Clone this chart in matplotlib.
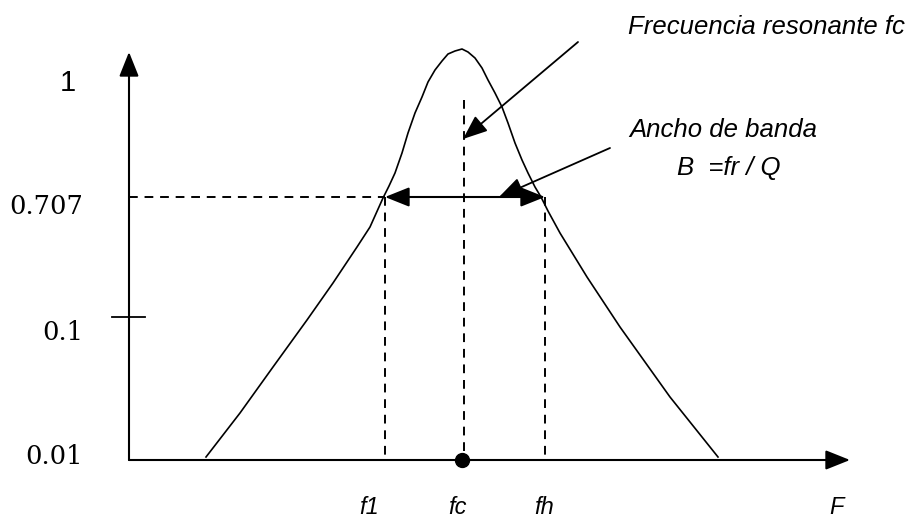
#!/usr/bin/env python3
"""Resonance curve sketch: band-pass response with f1, fc, fh and bandwidth."""

import matplotlib

matplotlib.use("Agg")
import matplotlib.pyplot as plt

# curve (drawing units = pixels, y grows downwards)
curve_x = [206, 240, 273, 307, 333, 357, 370, 383, 389, 395, 402, 408, 415,
           422, 428, 435, 442, 448, 455, 462, 468, 475, 482, 488, 495, 502,
           508, 515, 522, 528, 535, 541, 548, 560, 587, 620, 670, 718]
curve_y = [457, 413, 367, 320, 283, 247, 227, 198, 186, 173, 153, 133, 113,
           97, 82, 70, 61, 54, 51, 49, 52, 58, 68, 80, 93, 107,
           123, 143, 160, 173, 187, 197, 211, 233, 277, 327, 397, 457]

# axis frame
origin = (129, 460)
x_axis_end = 850
y_axis_end = 52

# level marks on the vertical axis
level_labels = ["0.707", "0.1", "0.01"]
level_y = [206, 332, 456]
one_text, one_x, one_y = "1", 68, 83
half_power_y = 197
tick_y = 317

# frequency marks
freq_labels = ["f1", "fc", "fh", "F"]
freq_label_x = [369, 457, 544, 836]
freq_x = {"f1": 385, "fc": 464, "fh": 545}
fc_dash_top = 100

# callouts: (text start, arrow tip)
fc_arrow = ((578, 42), (463, 139))
bw_arrow = ((610, 148), (499, 197))

fig = plt.figure(figsize=(9.13, 5.22), dpi=100)
ax = fig.add_axes([0, 0, 1, 1])
ax.set_xlim(0, 913)
ax.set_ylim(522, 0)
ax.axis("off")

head = "-|>,head_length=0.75,head_width=0.3"
arrow_kw = dict(arrowstyle=head, color="black", lw=1.5, shrinkA=0, shrinkB=0,
                mutation_scale=20)

# axes with arrow heads
ax.annotate("", xy=(origin[0], y_axis_end), xytext=origin, arrowprops=arrow_kw)
ax.annotate("", xy=(x_axis_end, origin[1]), xytext=origin, arrowprops=arrow_kw)
ax.plot([112, 145], [tick_y, tick_y], color="black", lw=1.3)

# dashed guides
dash = dict(color="black", lw=1.4, linestyle=(0, (4.5, 3.5)))
ax.plot([origin[0], freq_x["f1"]], [half_power_y, half_power_y], **dash)
ax.plot([freq_x["f1"]] * 2, [half_power_y, origin[1]], **dash)
ax.plot([freq_x["fh"]] * 2, [half_power_y, origin[1]], **dash)
ax.plot([freq_x["fc"]] * 2, [fc_dash_top, origin[1]], **dash)

# response curve
ax.plot(curve_x, curve_y, color="black", lw=1.2, solid_joinstyle="round")

# bandwidth double arrow
ax.annotate("", xy=(freq_x["f1"], half_power_y), xytext=(freq_x["fh"], half_power_y),
            arrowprops=dict(arrow_kw, arrowstyle="<|-|>,head_length=0.75,head_width=0.3"))

# resonance point
ax.plot([freq_x["fc"] - 2], [origin[1]], "o", color="black", markersize=10, zorder=5)

# callout arrows
ax.annotate("", xy=fc_arrow[1], xytext=fc_arrow[0], arrowprops=dict(arrow_kw, lw=1.3))
ax.annotate("", xy=bw_arrow[1], xytext=bw_arrow[0], arrowprops=dict(arrow_kw, lw=1.3))

# labels
ax.text(one_x, one_y, one_text, ha="center", va="center",
        fontsize=21, fontfamily=["Liberation Sans", "DejaVu Sans"])
for lab, y in zip(level_labels, level_y):
    ax.text(83, y, lab, ha="right", va="center", fontsize=18.5, family="DejaVu Serif")

for lab, x in zip(freq_labels, freq_label_x):
    ax.text(x, 508, lab, ha="center", va="center", fontsize=17,
            family="Liberation Sans", style="italic")

callout_font = dict(ha="center", va="center", fontsize=18.5,
                    family="Liberation Sans", style="italic")
ax.text(766, 27, "Frecuencia resonante fc", **callout_font)
ax.text(723, 130, "Ancho de banda", **callout_font)
ax.text(729, 168, "B  =fr / Q", **callout_font)

fig.savefig("out.png", dpi=100)
